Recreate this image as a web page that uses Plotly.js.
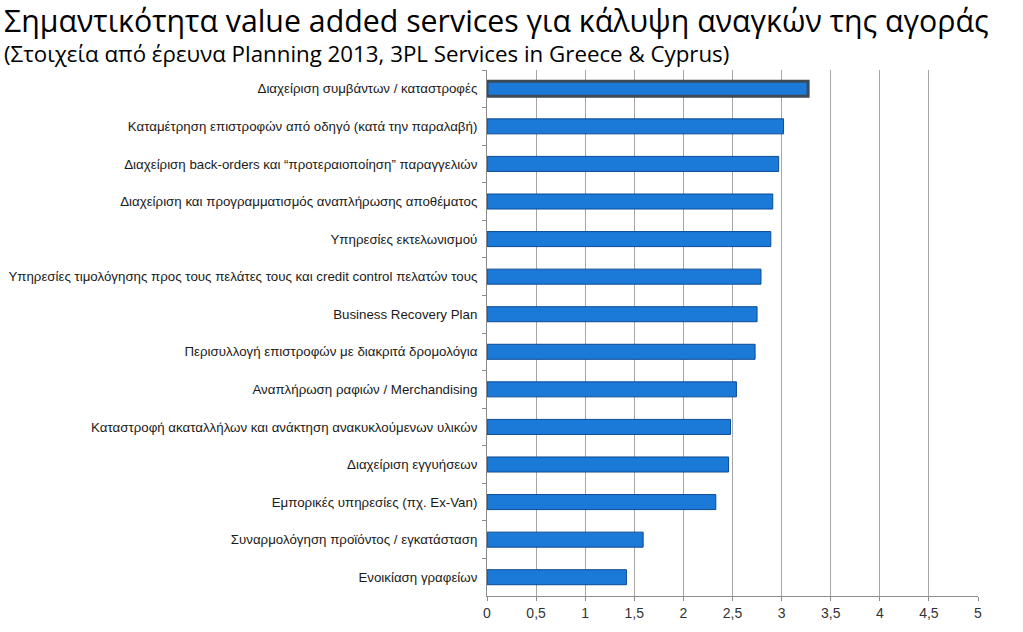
<!DOCTYPE html>
<html>
<head>
<meta charset="utf-8">
<script src="https://cdn.plot.ly/plotly-3.0.1.min.js"></script>
<style>html,body{margin:0;padding:0;background:#fff;}#chart{width:1023px;height:632px;}</style>
</head>
<body>
<div id="chart"></div>
<script>
const categories = [
  "Διαχείριση συμβάντων / καταστροφές",
  "Καταμέτρηση επιστροφών από οδηγό (κατά την παραλαβή)",
  "Διαχείριση back-orders και “προτεραιοποίηση” παραγγελιών",
  "Διαχείριση και προγραμματισμός αναπλήρωσης αποθέματος",
  "Υπηρεσίες εκτελωνισμού",
  "Υπηρεσίες τιμολόγησης προς τους πελάτες τους και credit control πελατών τους",
  "Business Recovery Plan",
  "Περισυλλογή επιστροφών με διακριτά δρομολόγια",
  "Αναπλήρωση ραφιών / Merchandising",
  "Καταστροφή ακαταλλήλων και ανάκτηση ανακυκλούμενων υλικών",
  "Διαχείριση εγγυήσεων",
  "Εμπορικές υπηρεσίες (πχ. Ex-Van)",
  "Συναρμολόγηση προϊόντος / εγκατάσταση",
  "Ενοικίαση γραφείων"
];
const values = [3.27, 3.02, 2.97, 2.91, 2.89, 2.79, 2.75, 2.73, 2.54, 2.48, 2.46, 2.33, 1.59, 1.42];
const titleText = "Σημαντικότητα value added services για κάλυψη αναγκών της αγοράς";
const subtitleText = "(Στοιχεία από έρευνα Planning 2013, 3PL Services in Greece & Cyprus)";

const lineColors = values.map((v, i) => i === 0 ? "#3c4a58" : "#0d4a94");
const lineWidths = values.map((v, i) => i === 0 ? 3 : 1);

const trace = {
  type: "bar",
  orientation: "h",
  x: values,
  y: categories,
  marker: { color: "#1b7ad8", line: { color: lineColors, width: lineWidths } },
  hoverinfo: "x+y"
};

const layout = {
  width: 1023, height: 632,
  margin: { l: 487, r: 45, t: 70, b: 36, pad: 0 },
  paper_bgcolor: "#fff", plot_bgcolor: "#fff",
  separators: ",.",
  bargap: 0.6,
  showlegend: false,
  xaxis: {
    range: [0, 5], dtick: 0.5, tick0: 0,
    showgrid: true, gridcolor: "#a6a6a6", gridwidth: 1,
    zeroline: false, showline: true, linecolor: "#8c8c8c",
    ticks: "outside", ticklen: 4, tickcolor: "#8c8c8c",
    tickfont: { family: "Liberation Sans, Arial, sans-serif", size: 14, color: "#333" },
    fixedrange: true
  },
  yaxis: {
    autorange: "reversed",
    showgrid: false, zeroline: false, showline: true, linecolor: "#8c8c8c",
    ticks: "outside", ticklen: 4, tickcolor: "#8c8c8c", tickson: "boundaries",
    ticklabelstandoff: 6,
    tickfont: { family: "Liberation Sans, Arial, sans-serif", size: 13.3, color: "#1a1a1a" },
    fixedrange: true
  },
  annotations: [
    { text: titleText, xref: "paper", yref: "paper", x: -484/491, y: 1 + 49.5/526, xanchor: "left", yanchor: "middle",
      showarrow: false, borderpad: 0, font: { family: "Open Sans, sans-serif", size: 30.3, color: "#000" } },
    { text: subtitleText, xref: "paper", yref: "paper", x: -484/491, y: 1 + 16/526, xanchor: "left", yanchor: "middle",
      showarrow: false, borderpad: 0, font: { family: "Open Sans, sans-serif", size: 22.3, color: "#000" } }
  ]
};

Plotly.newPlot("chart", [trace], layout, { displayModeBar: false, staticPlot: true });
</script>
</body>
</html>
